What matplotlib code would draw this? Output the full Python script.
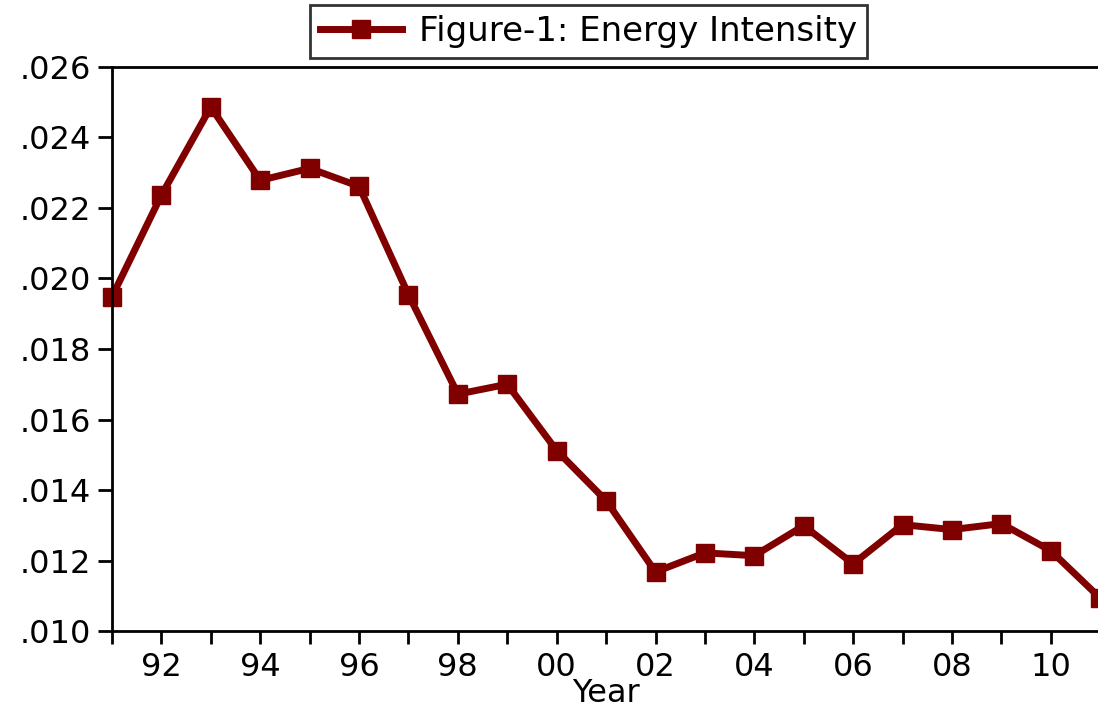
import matplotlib
matplotlib.use("Agg")
from matplotlib import pyplot as plt
from matplotlib.ticker import FixedLocator, FuncFormatter
import numpy as np

years = np.arange(1991, 2012)
intensity = [0.01948, 0.02236, 0.02486, 0.02278, 0.02312, 0.02261, 0.01954,
             0.01672, 0.01700, 0.01512, 0.01370, 0.01168, 0.01222, 0.01214,
             0.01299, 0.01191, 0.01302, 0.01288, 0.01305, 0.01228, 0.01094]
yticks = [0.010, 0.012, 0.014, 0.016, 0.018, 0.020, 0.022, 0.024, 0.026]

plt.rcParams['font.family'] = ['DejaVu Sans']

fig = plt.figure(figsize=(10.98, 7.10), dpi=100)
ax = fig.add_axes([0.102, 0.111, 0.900, 0.795])

line, = ax.plot(years, intensity, color='#800000', linewidth=5,
                marker='s', markersize=13, clip_on=False,
                label='Figure-1: Energy Intensity')

ax.set_xlim(1991, 2011)
ax.set_ylim(0.010, 0.026)
ax.xaxis.set_major_locator(FixedLocator(years[1::2]))
ax.xaxis.set_minor_locator(FixedLocator(years[0::2]))
ax.xaxis.set_major_formatter(FuncFormatter(lambda v, p: '%02d' % (int(v) % 100)))
ax.set_yticks(yticks)
ax.yaxis.set_major_formatter(FuncFormatter(lambda v, p: ('%.3f' % v)[1:]))

ax.tick_params(axis='both', which='both', direction='out',
               width=2, labelsize=23, colors='black')
ax.tick_params(axis='x', which='both', length=9, pad=6)
ax.tick_params(axis='y', which='both', length=10, pad=5)
for s in ax.spines.values():
    s.set_linewidth(2)
ax.spines['right'].set_visible(False)

ax.set_xlabel('Year', fontsize=23, labelpad=-3.5)

leg = fig.legend(handles=[line], loc='center', bbox_to_anchor=(0.536, 0.9556),
                 fontsize=24.5, frameon=True, fancybox=False, handlelength=2.4,
                 borderpad=0.3, handletextpad=0.5, borderaxespad=0)
leg.get_frame().set_edgecolor('black')
leg.get_frame().set_linewidth(2)

fig.savefig('out.png', dpi=100)
